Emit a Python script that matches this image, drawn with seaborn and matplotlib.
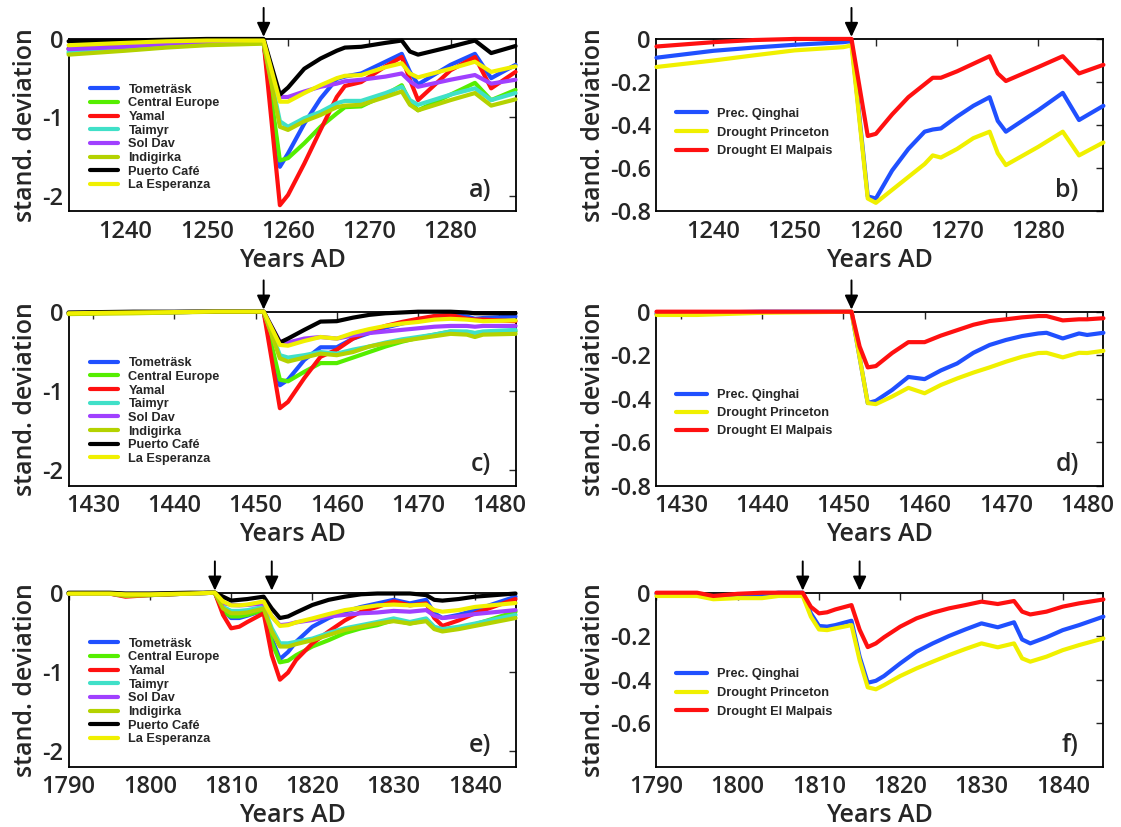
import numpy as np
import pandas as pd
import matplotlib
matplotlib.use("Agg")
import matplotlib.pyplot as plt
from matplotlib.lines import Line2D
import seaborn as sns

sns.set_style("white")
plt.rcParams["font.family"] = ["Open Sans", "DejaVu Sans"]
plt.rcParams["font.weight"] = "semibold"
plt.rcParams["axes.labelweight"] = "semibold"
plt.rcParams["axes.unicode_minus"] = False

# ---- series names and colours ----
sites = ["Tometräsk", "Central Europe", "Yamal", "Taimyr", "Sol Dav",
         "Indigirka", "Puerto Café", "La Esperanza"]
site_colors = ["#2050ff", "#55ee00", "#ff1010", "#40e0c8", "#a040ff",
               "#b4d200", "#000000", "#f0f000"]
hydro = ["Prec. Qinghai", "Drought Princeton", "Drought El Malpais"]
hydro_colors = ["#2050ff", "#f0f000", "#ff1010"]

# ---- panel a: 1257 eruption, temperature proxies ----
years_a = [1233, 1240, 1245, 1250, 1257, 1259, 1260, 1262, 1264, 1266, 1267,
           1269, 1272, 1274, 1275, 1276, 1280, 1283, 1285, 1288]
a_tometrask = [-0.12, -0.09, -0.06, -0.05, -0.04, -1.63, -1.46, -1.08, -0.76, -0.51, -0.48,
               -0.44, -0.29, -0.19, -0.42, -0.58, -0.33, -0.19, -0.50, -0.33]
a_central_europe = [-0.18, -0.14, -0.10, -0.07, -0.05, -1.55, -1.52, -1.33, -1.12, -0.95, -0.87,
                    -0.86, -0.71, -0.59, -0.80, -0.91, -0.71, -0.56, -0.78, -0.65]
a_yamal = [-0.13, -0.10, -0.07, -0.05, -0.04, -2.12, -1.99, -1.59, -1.16, -0.74, -0.60,
           -0.55, -0.35, -0.23, -0.52, -0.78, -0.40, -0.23, -0.63, -0.42]
a_taimyr = [-0.16, -0.12, -0.09, -0.06, -0.05, -1.05, -1.12, -1.01, -0.93, -0.82, -0.79,
            -0.79, -0.69, -0.61, -0.78, -0.84, -0.71, -0.63, -0.78, -0.69]
a_sol_dav = [-0.13, -0.10, -0.06, -0.04, -0.03, -0.74, -0.74, -0.67, -0.61, -0.57, -0.54,
             -0.52, -0.48, -0.44, -0.54, -0.61, -0.52, -0.46, -0.57, -0.52]
a_indigirka = [-0.20, -0.15, -0.11, -0.08, -0.06, -1.12, -1.16, -1.05, -0.97, -0.87, -0.85,
               -0.84, -0.74, -0.67, -0.84, -0.91, -0.78, -0.69, -0.85, -0.77]
a_puerto_cafe = [-0.03, -0.02, -0.01, 0.0, 0.0, -0.71, -0.62, -0.38, -0.25, -0.15, -0.11,
                 -0.10, -0.05, -0.02, -0.16, -0.20, -0.10, -0.02, -0.18, -0.09]
a_la_esperanza = [-0.08, -0.05, -0.03, -0.02, -0.02, -0.80, -0.80, -0.69, -0.59, -0.50, -0.47,
                  -0.46, -0.36, -0.31, -0.44, -0.49, -0.38, -0.29, -0.42, -0.35]

# ---- panel b: 1257 eruption, hydroclimate ----
years_b = [1233, 1240, 1245, 1250, 1256, 1257, 1259, 1260, 1262, 1264, 1266, 1267,
           1268, 1270, 1272, 1274, 1275, 1276, 1280, 1283, 1285, 1288]
b_qinghai = [-0.087, -0.055, -0.04, -0.027, -0.015, -0.01, -0.73, -0.74, -0.61, -0.51, -0.43, -0.42,
             -0.415, -0.36, -0.31, -0.27, -0.38, -0.43, -0.33, -0.25, -0.376, -0.31]
b_princeton = [-0.13, -0.10, -0.076, -0.053, -0.038, -0.03, -0.74, -0.76, -0.70, -0.64, -0.58, -0.54,
               -0.55, -0.51, -0.46, -0.43, -0.53, -0.585, -0.50, -0.43, -0.54, -0.48]
b_el_malpais = [-0.035, -0.015, -0.005, 0.0, 0.0, 0.0, -0.45, -0.44, -0.35, -0.27, -0.21, -0.18,
                -0.18, -0.15, -0.115, -0.08, -0.16, -0.195, -0.13, -0.08, -0.16, -0.12]

# ---- panel c: 1451 eruption, temperature proxies ----
years_c = [1427, 1435, 1445, 1451, 1453, 1454, 1456, 1458, 1460, 1462, 1464, 1466,
           1468, 1470, 1472, 1474, 1476, 1477, 1478, 1482]
c_tometrask = [-0.02, -0.01, 0.0, 0.0, -0.93, -0.86, -0.61, -0.45, -0.45, -0.34, -0.27, -0.20,
               -0.15, -0.105, -0.06, -0.04, -0.06, -0.09, -0.08, -0.06]
c_central_europe = [-0.02, -0.01, 0.0, 0.0, -0.86, -0.88, -0.76, -0.65, -0.65, -0.58, -0.51, -0.44,
                    -0.38, -0.33, -0.29, -0.25, -0.26, -0.27, -0.26, -0.25]
c_yamal = [-0.02, -0.01, 0.0, 0.0, -1.22, -1.14, -0.84, -0.57, -0.48, -0.34, -0.25, -0.18,
           -0.13, -0.09, -0.055, -0.04, -0.09, -0.10, -0.10, -0.12]
c_taimyr = [-0.02, -0.01, 0.0, 0.0, -0.55, -0.58, -0.55, -0.51, -0.53, -0.48, -0.44, -0.39,
            -0.35, -0.32, -0.29, -0.25, -0.25, -0.27, -0.25, -0.23]
c_sol_dav = [-0.02, -0.01, 0.0, 0.0, -0.38, -0.39, -0.34, -0.32, -0.34, -0.30, -0.27, -0.25,
             -0.23, -0.21, -0.19, -0.18, -0.18, -0.19, -0.18, -0.18]
c_indigirka = [-0.03, -0.02, 0.0, 0.0, -0.59, -0.63, -0.58, -0.53, -0.55, -0.51, -0.44, -0.40,
               -0.37, -0.34, -0.31, -0.28, -0.29, -0.32, -0.29, -0.28]
c_puerto_cafe = [-0.01, 0.0, 0.0, 0.0, -0.39, -0.34, -0.23, -0.125, -0.12, -0.075, -0.04, -0.02,
                 -0.01, 0.0, 0.0, 0.0, -0.01, -0.02, -0.02, -0.02]
c_la_esperanza = [-0.02, -0.01, 0.0, 0.0, -0.42, -0.43, -0.37, -0.32, -0.34, -0.27, -0.22, -0.18,
                  -0.15, -0.13, -0.10, -0.09, -0.10, -0.11, -0.12, -0.11]

# ---- panel d: 1451 eruption, hydroclimate ----
years_d = [1427, 1432, 1440, 1451, 1452, 1453, 1454, 1456, 1458, 1460, 1462, 1464,
           1466, 1468, 1470, 1472, 1474, 1475, 1477, 1479, 1480, 1482]
d_qinghai = [-0.01, -0.005, 0.0, 0.0, -0.21, -0.42, -0.41, -0.36, -0.30, -0.31, -0.27, -0.238,
             -0.189, -0.153, -0.13, -0.112, -0.10, -0.097, -0.123, -0.10, -0.107, -0.097]
d_princeton = [-0.015, -0.015, -0.005, 0.0, -0.21, -0.42, -0.425, -0.39, -0.35, -0.375, -0.337, -0.307,
               -0.28, -0.256, -0.23, -0.207, -0.19, -0.189, -0.21, -0.189, -0.19, -0.18]
d_el_malpais = [0.0, 0.0, 0.0, 0.0, -0.16, -0.256, -0.25, -0.19, -0.14, -0.14, -0.11, -0.085,
                -0.06, -0.043, -0.035, -0.026, -0.02, -0.02, -0.04, -0.035, -0.035, -0.03]

# ---- panel e: 1808 and 1815 eruptions, temperature proxies ----
years_e = [1790, 1795, 1797, 1800, 1805, 1808, 1809, 1810, 1811, 1812, 1814, 1815, 1816, 1817,
           1818, 1820, 1822, 1824, 1826, 1828, 1830, 1832, 1834, 1835, 1836, 1838, 1840, 1845]
e_tometrask = [-0.01, -0.01, -0.04, -0.03, -0.01, 0.0, -0.22, -0.32, -0.32, -0.29, -0.22, -0.58, -0.84, -0.75,
               -0.62, -0.43, -0.32, -0.24, -0.18, -0.135, -0.09, -0.135, -0.09, -0.26, -0.32, -0.28, -0.22, -0.05]
e_central_europe = [-0.01, -0.01, -0.03, -0.03, -0.01, 0.0, -0.24, -0.30, -0.30, -0.28, -0.22, -0.62, -0.88, -0.86,
                    -0.79, -0.68, -0.60, -0.51, -0.45, -0.41, -0.345, -0.39, -0.345, -0.45, -0.48, -0.45, -0.40, -0.24]
e_yamal = [-0.01, -0.01, -0.05, -0.03, -0.01, 0.0, -0.28, -0.45, -0.43, -0.37, -0.26, -0.79, -1.10, -1.01,
           -0.85, -0.64, -0.49, -0.35, -0.24, -0.18, -0.11, -0.16, -0.135, -0.32, -0.42, -0.35, -0.26, -0.08]
e_taimyr = [-0.01, -0.01, -0.03, -0.02, -0.01, 0.0, -0.18, -0.23, -0.23, -0.22, -0.18, -0.45, -0.64, -0.64,
            -0.62, -0.58, -0.51, -0.45, -0.41, -0.37, -0.325, -0.37, -0.325, -0.43, -0.46, -0.43, -0.39, -0.28]
e_sol_dav = [-0.01, -0.01, -0.03, -0.02, -0.01, 0.0, -0.13, -0.155, -0.16, -0.155, -0.135, -0.30, -0.41, -0.40,
             -0.375, -0.345, -0.30, -0.28, -0.26, -0.25, -0.23, -0.24, -0.22, -0.29, -0.32, -0.30, -0.27, -0.22]
e_indigirka = [-0.01, -0.01, -0.04, -0.03, -0.01, 0.0, -0.20, -0.26, -0.26, -0.25, -0.20, -0.49, -0.68, -0.68,
               -0.65, -0.60, -0.535, -0.47, -0.43, -0.39, -0.36, -0.39, -0.36, -0.46, -0.49, -0.46, -0.42, -0.32]
e_puerto_cafe = [0.0, 0.0, -0.01, -0.01, 0.0, 0.0, -0.05, -0.10, -0.09, -0.08, -0.05, -0.20, -0.32, -0.30,
                 -0.25, -0.155, -0.09, -0.05, -0.02, -0.01, -0.01, -0.01, -0.03, -0.09, -0.10, -0.08, -0.05, -0.01]
e_la_esperanza = [-0.01, -0.01, -0.02, -0.02, -0.01, 0.0, -0.11, -0.16, -0.16, -0.15, -0.11, -0.30, -0.42, -0.41,
                  -0.375, -0.325, -0.27, -0.22, -0.19, -0.16, -0.15, -0.16, -0.15, -0.22, -0.24, -0.22, -0.18, -0.13]

# ---- panel f: 1808 and 1815 eruptions, hydroclimate ----
years_f = [1790, 1795, 1797, 1800, 1803, 1805, 1808, 1809, 1810, 1811, 1812, 1814, 1815, 1816, 1817,
           1818, 1820, 1822, 1824, 1826, 1828, 1830, 1832, 1834, 1835, 1836, 1838, 1840, 1842, 1845]
f_qinghai = [-0.005, -0.005, -0.02, -0.01, -0.01, 0.0, 0.0, -0.095, -0.153, -0.156, -0.149, -0.129, -0.294, -0.414,
             -0.405, -0.383, -0.325, -0.271, -0.233, -0.199, -0.169, -0.141, -0.159, -0.136, -0.215, -0.233,
             -0.205, -0.172, -0.149, -0.11]
f_princeton = [-0.015, -0.015, -0.03, -0.025, -0.025, -0.015, -0.015, -0.11, -0.169, -0.172, -0.164, -0.149, -0.31,
               -0.435, -0.444, -0.425, -0.383, -0.348, -0.317, -0.287, -0.259, -0.233, -0.251, -0.233, -0.302,
               -0.317, -0.294, -0.264, -0.241, -0.21]
f_el_malpais = [0.0, 0.0, -0.015, -0.005, 0.0, 0.0, 0.0, -0.065, -0.095, -0.09, -0.077, -0.057, -0.17, -0.25,
                -0.233, -0.205, -0.156, -0.118, -0.092, -0.072, -0.057, -0.041, -0.052, -0.038, -0.087, -0.10,
                -0.087, -0.064, -0.049, -0.031]

temp_ticks = [0, -1, -2]
temp_ticklabels = ["0", "-1", "-2"]
hydro_ticks = [0, -0.2, -0.4, -0.6, -0.8]
hydro_ticklabels = ["0", "-0.2", "-0.4", "-0.6", "-0.8"]

FS = 17
LEGEND_FONT = dict(family="Liberation Sans", weight="bold", size=9.2)


def draw_panel(ax, years, values, names, colors, xlim, ylim, xticks, yticks, yticklabels,
               eruptions, letter, leg_xy, leg_spacing, leg_handle):
    df = pd.DataFrame({
        "year": np.tile(years, len(names)),
        "value": np.concatenate([np.asarray(v, dtype=float) for v in values]),
        "series": np.repeat(names, len(years)),
    })
    sns.lineplot(data=df, x="year", y="value", hue="series", hue_order=names,
                 palette=colors, linewidth=3, estimator=None, errorbar=None,
                 legend=False, ax=ax, zorder=3, clip_on=False)
    ax.set_xlim(*xlim)
    ax.set_ylim(*ylim)
    ax.set_xticks(xticks)
    ax.set_yticks(yticks)
    ax.set_yticklabels(yticklabels)
    ax.tick_params(direction="in", top=True, right=True, length=5, width=1,
                   labelsize=FS)
    ax.tick_params(axis="x", pad=6)
    ax.tick_params(axis="y", pad=4)
    for sp in ax.spines.values():
        sp.set_linewidth(1.3)
        sp.set_color("black")
    ax.set_xlabel("Years AD", fontsize=FS + 1, labelpad=3)
    ax.set_ylabel("stand. deviation", fontsize=FS + 1, labelpad=3)
    for yr in eruptions:
        ax.annotate("", xy=(yr, 1.012), xycoords=("data", "axes fraction"),
                    xytext=(yr, 1.18), textcoords=("data", "axes fraction"),
                    arrowprops=dict(arrowstyle="-|>,head_length=0.85,head_width=0.4",
                                    color="black", lw=1.4, shrinkA=0, shrinkB=0,
                                    mutation_scale=10),
                    annotation_clip=False)
    ax.text(0.945, 0.085, letter, transform=ax.transAxes, ha="right",
            va="baseline", fontsize=FS + 1)
    handles = [Line2D([], [], color=c, lw=3) for c in colors]
    ax.legend(handles, names, loc="upper left", bbox_to_anchor=leg_xy,
              frameon=False, prop=LEGEND_FONT,
              handlelength=leg_handle, handletextpad=0.8, labelspacing=leg_spacing,
              borderpad=0, borderaxespad=0)


fig = plt.figure(figsize=(11.21, 8.27), dpi=100)
fig.patch.set_facecolor("white")
lx, rx, w = 0.0612, 0.5856, 0.3987
rows = [(0.7443, 0.2086), (0.4127, 0.2104), (0.0729, 0.2104)]

ax_a = fig.add_axes([lx, rows[0][0], w, rows[0][1]])
ax_b = fig.add_axes([rx, rows[0][0], w, rows[0][1]])
ax_c = fig.add_axes([lx, rows[1][0], w, rows[1][1]])
ax_d = fig.add_axes([rx, rows[1][0], w, rows[1][1]])
ax_e = fig.add_axes([lx, rows[2][0], w, rows[2][1]])
ax_f = fig.add_axes([rx, rows[2][0], w, rows[2][1]])

draw_panel(ax_a, years_a,
           [a_tometrask, a_central_europe, a_yamal, a_taimyr, a_sol_dav, a_indigirka,
            a_puerto_cafe, a_la_esperanza],
           sites, site_colors, (1233, 1288), (-2.2, 0), range(1240, 1290, 10),
           temp_ticks, temp_ticklabels, [1257], "a)", (0.048, 0.740), 0.13, 2.2)
draw_panel(ax_b, years_b, [b_qinghai, b_princeton, b_el_malpais],
           hydro, hydro_colors, (1233, 1288), (-0.8, 0), range(1240, 1290, 10),
           hydro_ticks, hydro_ticklabels, [1257], "b)", (0.044, 0.60), 0.52, 2.4)
draw_panel(ax_c, years_c,
           [c_tometrask, c_central_europe, c_yamal, c_taimyr, c_sol_dav, c_indigirka,
            c_puerto_cafe, c_la_esperanza],
           sites, site_colors, (1427, 1482), (-2.2, 0), range(1430, 1490, 10),
           temp_ticks, temp_ticklabels, [1451], "c)", (0.048, 0.738), 0.13, 2.2)
draw_panel(ax_d, years_d, [d_qinghai, d_princeton, d_el_malpais],
           hydro, hydro_colors, (1427, 1482), (-0.8, 0), range(1430, 1490, 10),
           hydro_ticks, hydro_ticklabels, [1451], "d)", (0.044, 0.555), 0.48, 2.4)
draw_panel(ax_e, years_e,
           [e_tometrask, e_central_europe, e_yamal, e_taimyr, e_sol_dav, e_indigirka,
            e_puerto_cafe, e_la_esperanza],
           sites, site_colors, (1790, 1845), (-2.2, 0), range(1790, 1850, 10),
           temp_ticks, temp_ticklabels, [1808, 1815], "e)", (0.048, 0.741), 0.13, 2.2)
draw_panel(ax_f, years_f, [f_qinghai, f_princeton, f_el_malpais],
           hydro, hydro_colors, (1790, 1845), (-0.8, 0), range(1790, 1850, 10),
           hydro_ticks[:4], hydro_ticklabels[:4], [1808, 1815], "f)", (0.044, 0.565), 0.52, 2.4)

fig.savefig("out.png", dpi=100, facecolor="white")
